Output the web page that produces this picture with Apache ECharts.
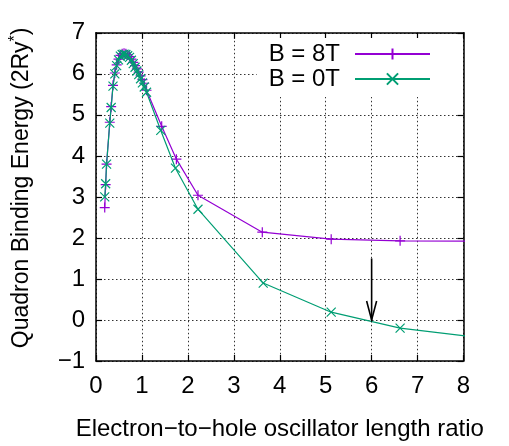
<!DOCTYPE html>
<html><head><meta charset="utf-8">
<script src="https://cdn.jsdelivr.net/npm/echarts@6/dist/echarts.min.js"></script>
<style>html,body{margin:0;padding:0;background:#fff}#c{width:509px;height:446px}</style>
</head><body><div id="c"></div>
<script>
const xRatio8 = [0.19, 0.21, 0.23, 0.30, 0.33, 0.37, 0.41, 0.45, 0.49, 0.53, 0.57, 0.61, 0.65, 0.69, 0.73, 0.77, 0.81, 0.85, 0.89, 0.93, 0.97, 1.01, 1.05, 1.10, 1.43, 1.75, 2.22, 3.62, 5.12, 6.62, 8.12];
const energy8T = [2.74, 3.30, 3.80, 4.82, 5.20, 5.72, 6.02, 6.22, 6.36, 6.45, 6.49, 6.50, 6.49, 6.46, 6.42, 6.36, 6.28, 6.20, 6.12, 6.04, 5.95, 5.86, 5.77, 5.60, 4.72, 3.92, 3.04, 2.14, 1.97, 1.93, 1.92];
const xRatio0 = [0.19, 0.21, 0.23, 0.30, 0.33, 0.37, 0.41, 0.45, 0.49, 0.53, 0.57, 0.61, 0.65, 0.69, 0.73, 0.77, 0.81, 0.85, 0.89, 0.93, 0.97, 1.01, 1.05, 1.10, 1.41, 1.73, 2.22, 3.64, 5.12, 6.62, 8.12];
const energy0T = [3.00, 3.32, 3.80, 4.80, 5.18, 5.70, 6.00, 6.20, 6.34, 6.43, 6.47, 6.48, 6.47, 6.44, 6.40, 6.33, 6.25, 6.16, 6.07, 5.98, 5.88, 5.78, 5.68, 5.55, 4.62, 3.70, 2.70, 0.90, 0.19, -0.20, -0.40];
const arrowFrom = [6, 1.5];
const arrowTo = [6, 0];
const seriesNames = ['B = 8T', 'B = 0T'];
const xTicks = [0, 1, 2, 3, 4, 5, 6, 7, 8];
const yTicks = [-1, 0, 1, 2, 3, 4, 5, 6, 7];

const PURPLE = '#9400d3', GREEN = '#009e73';
const FONT = 'Liberation Sans';
const FS = 24;
const plusSym = 'path://M0,5L10,5M5,0L5,10';
const crossSym = 'path://M0,0L10,10M0,10L10,0';
const fmt = v => v < 0 ? '\u2212' + Math.abs(v) : String(v);

const gridLine = {show: true, lineStyle: {color: '#333', width: 1, type: [1.5, 2.5]}};
const tick = {show: true, inside: true, length: 6, lineStyle: {color: '#000', width: 1.2}};
const axLine = {show: true, onZero: false, lineStyle: {color: '#000', width: 1.5}};

const chart = echarts.init(document.getElementById('c'), null, {renderer: 'canvas'});
chart.setOption({
  animation: false,
  backgroundColor: '#fff',
  textStyle: {fontFamily: FONT},
  grid: {left: 93.5, right: 45.5, top: 32.8, bottom: 80.4, containLabel: false},
  legend: {
    data: seriesNames, orient: 'vertical', align: 'right',
    right: 46, top: 38, padding: [4, 32, 6, 12],
    backgroundColor: '#fff', itemWidth: 75, itemHeight: 14, itemGap: 1,
    textStyle: {fontSize: FS, fontFamily: FONT, color: '#000', padding: [0, 10, 0, 0]}
  },
  xAxis: [{
    type: 'value', min: 0, max: 8, interval: 1, position: 'bottom',
    name: 'Electron\u2212to\u2212hole oscillator length ratio', nameLocation: 'middle', nameGap: 56,
    nameTextStyle: {fontSize: FS, fontFamily: FONT, color: '#000'},
    axisLine: axLine, axisTick: tick, splitLine: gridLine,
    axisLabel: {fontSize: FS, fontFamily: FONT, color: '#000', margin: 13, formatter: fmt,
      customValues: xTicks}
  }, {
    type: 'value', min: 0, max: 8, interval: 1, position: 'top',
    axisLine: axLine, axisTick: tick, splitLine: {show: false}, axisLabel: {show: false}
  }],
  yAxis: [{
    type: 'value', min: -1, max: 7, interval: 1, position: 'left',
    name: 'Quadron Binding Energy (2Ry{sup|*})', nameLocation: 'middle', nameGap: 60,
    nameTextStyle: {fontSize: 23, fontFamily: FONT, color: '#000', padding: [0, 0, 0, 18],
      rich: {sup: {fontSize: 16, fontFamily: FONT, color: '#000', padding: [0, 0, 12, 0]}}},
    axisLine: axLine, axisTick: tick, splitLine: gridLine,
    axisLabel: {fontSize: FS, fontFamily: FONT, color: '#000', margin: 11, formatter: fmt,
      customValues: yTicks}
  }, {
    type: 'value', min: -1, max: 7, interval: 1, position: 'right',
    axisLine: axLine, axisTick: tick, splitLine: {show: false}, axisLabel: {show: false}
  }],
  series: [{
    name: seriesNames[0], type: 'line', clip: true, z: 3,
    data: xRatio8.map((x, i) => [x, energy8T[i]]),
    symbol: plusSym, symbolSize: 10, showAllSymbol: true,
    lineStyle: {color: PURPLE, width: 1.2},
    itemStyle: {color: PURPLE, borderColor: PURPLE, borderWidth: 1.2}
  }, {
    name: seriesNames[1], type: 'line', clip: true, z: 4,
    data: xRatio0.map((x, i) => [x, energy0T[i]]),
    symbol: crossSym, symbolSize: 9, showAllSymbol: true,
    lineStyle: {color: GREEN, width: 1.2},
    itemStyle: {color: GREEN, borderColor: GREEN, borderWidth: 1.2}
  }, {
    type: 'custom', silent: true, z: 5,
    data: [[arrowFrom[0], arrowFrom[1], arrowTo[0], arrowTo[1]]],
    encode: {x: [0, 2], y: [1, 3]},
    renderItem: (params, api) => {
      const a = api.coord([api.value(0), api.value(1)]);
      const b = api.coord([api.value(2), api.value(3)]);
      const st = {stroke: '#000', lineWidth: 1.6, fill: null};
      return {type: 'group', children: [
        {type: 'line', shape: {x1: a[0], y1: a[1], x2: b[0], y2: b[1]}, style: st},
        {type: 'polyline', shape: {points: [[b[0] - 5, b[1] - 19], [b[0], b[1]], [b[0] + 5, b[1] - 19]]}, style: st}
      ]};
    }
  }]
});
</script></body></html>
